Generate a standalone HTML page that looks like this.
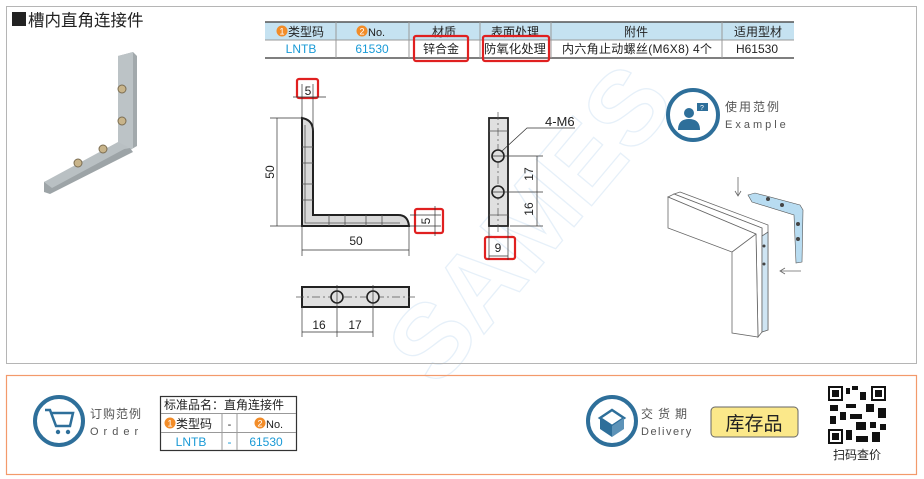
<!DOCTYPE html>
<html><head><meta charset="utf-8"><style>
body{margin:0;width:924px;height:479px;background:#fff;overflow:hidden;font-family:"Liberation Sans","Noto Sans CJK SC",sans-serif}
svg{position:absolute;left:0;top:0}
text{font-family:"Liberation Sans","Noto Sans CJK SC",sans-serif}
</style></head><body>
<svg width="924" height="479" viewBox="0 0 924 479">
<!-- watermark (faint) -->
<text x="330" y="300" font-size="105" font-weight="bold" fill="none" stroke="#e6f0f9" stroke-width="1.3" transform="rotate(-50 480 230)">SAMES</text>
<!-- frames -->
<rect x="6.5" y="6.5" width="910" height="357" fill="none" stroke="#b5b5b5"/>
<rect x="6.5" y="375.5" width="910" height="99" fill="none" stroke="#f39a6b" stroke-width="1.2"/>
<!-- title -->
<rect x="12" y="12" width="14" height="14" fill="#222"/>
<text x="28" y="26" font-size="16.5" fill="#222">槽内直角连接件</text>
<!-- product photo -->
<g>
<polygon points="118,56 133,52 137,56 137,146 130,150 118,146" fill="#a2a9ac"/>
<polygon points="118,56 133,52 133,148 125,152 118,150" fill="#bcc3c6"/>
<polygon points="118,150 130,148 133,152 50,194 44,192 44,182" fill="#9da4a7"/>
<polygon points="44,182 118,142 128,147 52,188" fill="#b9c0c3"/>
<circle cx="122" cy="89" r="4" fill="#c8b48a" stroke="#7b6d52"/>
<circle cx="122" cy="121" r="4" fill="#c8b48a" stroke="#7b6d52"/>
<circle cx="103" cy="149" r="4" fill="#c8b48a" stroke="#7b6d52"/>
<circle cx="78" cy="163" r="4" fill="#c8b48a" stroke="#7b6d52"/>
</g>
<!-- spec table -->
<rect x="265" y="22" width="529" height="18" fill="#c5e2f1"/>
<line x1="265" y1="22" x2="794" y2="22" stroke="#555" stroke-width="1.5"/>
<line x1="265" y1="40" x2="794" y2="40" stroke="#999"/>
<line x1="265" y1="58" x2="794" y2="58" stroke="#555" stroke-width="1.5"/>
<g stroke="#999"><line x1="336" y1="22" x2="336" y2="58"/><line x1="409" y1="22" x2="409" y2="58"/><line x1="480" y1="22" x2="480" y2="58"/><line x1="551" y1="22" x2="551" y2="58"/><line x1="722" y1="22" x2="722" y2="58"/></g>
<circle cx="282" cy="31" r="5.5" fill="#f28c28"/><text x="282" y="34.5" font-size="9" fill="#fff" text-anchor="middle">1</text>
<text x="288" y="36" font-size="12" fill="#222">类型码</text>
<circle cx="362" cy="31" r="5.5" fill="#f28c28"/><text x="362" y="34.5" font-size="9" fill="#fff" text-anchor="middle">2</text>
<text x="368" y="36" font-size="11" fill="#222">No.</text>
<g font-size="12" fill="#222" text-anchor="middle">
<text x="444" y="36">材质</text><text x="515" y="36">表面处理</text><text x="636" y="36">附件</text><text x="758" y="36">适用型材</text>
<text x="441" y="53">锌合金</text>
<text x="757" y="53">H61530</text>
</g>
<text x="484" y="53" font-size="12" fill="#222" textLength="62" lengthAdjust="spacingAndGlyphs">防氧化处理</text>
<text x="562" y="53" font-size="12" fill="#222" textLength="150" lengthAdjust="spacing">内六角止动螺丝(M6X8) 4个</text>
<g font-size="12" fill="#1a9ad6" text-anchor="middle"><text x="301" y="53">LNTB</text><text x="372" y="53">61530</text></g>
<g fill="none" stroke="#e02020" stroke-width="2.2">
<rect x="414" y="36" width="54" height="25" rx="2"/><rect x="483" y="36" width="66" height="25" rx="2"/>
<rect x="297" y="79" width="21" height="19" rx="2"/><rect x="415" y="209" width="28" height="24" rx="2"/><rect x="485" y="237" width="30" height="22" rx="2"/>
</g>
<!-- L shape front view -->
<path d="M302,118 Q313,120 313,131 L313,215 L398,215 Q408,215 409,226 L302,226 Z" fill="#d9d9d9" stroke="#222" stroke-width="2"/>
<path d="M305,125 L305,223 L400,223" fill="none" stroke="#555" stroke-width="0.8"/>
<g stroke="#555" stroke-width="0.8"><line x1="302" y1="147" x2="313" y2="147"/><line x1="302" y1="163" x2="313" y2="163"/><line x1="302" y1="184" x2="313" y2="184"/><line x1="302" y1="200" x2="313" y2="200"/><line x1="329" y1="215" x2="329" y2="226"/><line x1="345" y1="215" x2="345" y2="226"/><line x1="366" y1="215" x2="366" y2="226"/><line x1="382" y1="215" x2="382" y2="226"/></g>
<g stroke="#333" stroke-width="0.7" fill="none">
<line x1="293" y1="97" x2="326" y2="97"/><line x1="302" y1="84" x2="302" y2="118"/><line x1="313" y1="84" x2="313" y2="131"/>
<line x1="270" y1="118" x2="302" y2="118"/><line x1="270" y1="226" x2="302" y2="226"/><line x1="277" y1="118" x2="277" y2="226"/>
<line x1="302" y1="226" x2="302" y2="256"/><line x1="409" y1="226" x2="409" y2="256"/><line x1="302" y1="250" x2="409" y2="250"/>
<line x1="410" y1="215" x2="441" y2="215"/><line x1="410" y1="226" x2="441" y2="226"/><line x1="435" y1="206" x2="435" y2="236"/>
</g>
<text x="308" y="95" font-size="12" fill="#222" text-anchor="middle">5</text>
<text x="274" y="172" font-size="12" fill="#222" text-anchor="middle" transform="rotate(-90 274 172)">50</text>
<text x="356" y="245" font-size="12" fill="#222" text-anchor="middle">50</text>
<text x="430" y="221" font-size="12" fill="#222" text-anchor="middle" transform="rotate(-90 430 221)">5</text>
<!-- side view -->
<rect x="489" y="118" width="19" height="108" fill="#e0e0e0" stroke="#222" stroke-width="1.8"/>
<g stroke="#555" stroke-width="0.7"><line x1="489" y1="131" x2="508" y2="131"/><line x1="489" y1="215" x2="508" y2="215"/><line x1="498" y1="112" x2="498" y2="232" stroke-dasharray="8,3,2,3"/></g>
<circle cx="498" cy="156" r="6" fill="#e0e0e0" stroke="#222" stroke-width="1.6"/>
<circle cx="498" cy="192" r="6" fill="#e0e0e0" stroke="#222" stroke-width="1.6"/>
<g stroke="#333" stroke-width="0.7" fill="none">
<line x1="492" y1="156" x2="543" y2="156"/><line x1="492" y1="192" x2="543" y2="192"/><line x1="510" y1="226" x2="543" y2="226"/><line x1="537" y1="156" x2="537" y2="226"/>
<line x1="489" y1="226" x2="489" y2="260"/><line x1="508" y1="226" x2="508" y2="260"/><line x1="489" y1="256" x2="508" y2="256"/>
<polyline points="502,151 527,128 575,128"/>
</g>
<text x="545" y="126" font-size="13" fill="#222">4-M6</text>
<text x="533" y="174" font-size="12" fill="#222" text-anchor="middle" transform="rotate(-90 533 174)">17</text>
<text x="533" y="209" font-size="12" fill="#222" text-anchor="middle" transform="rotate(-90 533 209)">16</text>
<text x="498" y="252" font-size="12" fill="#222" text-anchor="middle">9</text>
<!-- bottom view -->
<rect x="302" y="287" width="107" height="20" fill="#e0e0e0" stroke="#222" stroke-width="2"/>
<line x1="296" y1="297" x2="415" y2="297" stroke="#555" stroke-width="0.7" stroke-dasharray="8,3,2,3"/>
<circle cx="337" cy="297" r="6" fill="#e0e0e0" stroke="#222" stroke-width="1.6"/>
<circle cx="373" cy="297" r="6" fill="#e0e0e0" stroke="#222" stroke-width="1.6"/>
<g stroke="#333" stroke-width="0.7"><line x1="302" y1="307" x2="302" y2="337"/><line x1="337" y1="285" x2="337" y2="337"/><line x1="373" y1="285" x2="373" y2="337"/><line x1="302" y1="332" x2="373" y2="332"/></g>
<text x="319" y="329" font-size="12" fill="#222" text-anchor="middle">16</text>
<text x="355" y="329" font-size="12" fill="#222" text-anchor="middle">17</text>
<!-- example -->
<circle cx="693" cy="115" r="25" fill="#fff" stroke="#2e6f9a" stroke-width="4"/>
<circle cx="689" cy="113" r="5" fill="#2e6f9a"/><path d="M678,130 Q678,119 689,119 Q700,119 700,130 Z" fill="#2e6f9a"/>
<rect x="697" y="103" width="11" height="8" fill="#2e6f9a"/><text x="702" y="110" font-size="7" fill="#fff" text-anchor="middle">?</text>
<text x="725" y="111" font-size="12" fill="#555" letter-spacing="2">使用范例</text>
<text x="725" y="128" font-size="11" fill="#555" letter-spacing="3">Example</text>
<g stroke="#666" stroke-width="0.8" fill="#fff">
<polygon points="680,192 768,225 768,330 762,332 762,228 674,194"/>
<polygon points="674,194 762,228 762,332 758,337 756,234 668,197"/>
<polygon points="668,197 756,234 758,337 732,333 732,252 668,228"/>
<line x1="732" y1="252" x2="756" y2="234"/>
<polygon points="762,236 768,232 768,330 762,332" fill="#cfe5f3"/>
</g>
<polygon points="748,195 755,193 800,205 803,210 802,262 796,263 794,215 752,202" fill="#b8dcf1" stroke="#555" stroke-width="0.6"/>
<g fill="#444"><circle cx="768" cy="199" r="2"/><circle cx="782" cy="205" r="2"/><circle cx="798" cy="224" r="2"/><circle cx="798" cy="239" r="2"/><circle cx="764" cy="246" r="1.5"/><circle cx="764" cy="264" r="1.5"/></g>
<g stroke="#666" stroke-width="0.8" fill="none"><line x1="738" y1="177" x2="738" y2="195"/><polyline points="735,191 738,196 741,191"/><line x1="781" y1="271" x2="801" y2="271"/><polyline points="785,268 780,271 785,274"/></g>
<!-- order -->
<circle cx="59" cy="421" r="24" fill="#fff" stroke="#2e6f9a" stroke-width="4"/>
<g stroke="#2e6f9a" stroke-width="2.5" fill="none"><polyline points="45,410 50,410 56,426 70,426 73,413 52,413"/></g>
<g fill="#2e6f9a"><circle cx="58" cy="432" r="2.2"/><circle cx="68" cy="432" r="2.2"/></g>
<text x="90" y="418" font-size="12" fill="#555" letter-spacing="1">订购范例</text>
<text x="90" y="435" font-size="11" fill="#555" letter-spacing="5">Order</text>
<rect x="160.5" y="396.5" width="136" height="54" fill="#fff" stroke="#333" stroke-width="1.2"/>
<g stroke="#999"><line x1="161" y1="413.5" x2="296" y2="413.5"/><line x1="161" y1="432.5" x2="296" y2="432.5"/><line x1="222" y1="414" x2="222" y2="450"/><line x1="237" y1="414" x2="237" y2="450"/></g>
<text x="164" y="409" font-size="12" fill="#222">标准品名：直角连接件</text>
<circle cx="170" cy="423" r="5.5" fill="#f28c28"/><text x="170" y="426.5" font-size="9" fill="#fff" text-anchor="middle">1</text>
<text x="176" y="428" font-size="12" fill="#222">类型码</text>
<text x="229.5" y="428" font-size="11" fill="#222" text-anchor="middle">-</text>
<circle cx="260" cy="423" r="5.5" fill="#f28c28"/><text x="260" y="426.5" font-size="9" fill="#fff" text-anchor="middle">2</text>
<text x="266" y="428" font-size="11" fill="#222">No.</text>
<g font-size="12" fill="#1a9ad6" text-anchor="middle"><text x="191" y="446">LNTB</text><text x="229.5" y="446">-</text><text x="266" y="446">61530</text></g>
<!-- delivery -->
<circle cx="612" cy="421" r="24" fill="#fff" stroke="#2e6f9a" stroke-width="4"/>
<polygon points="600,418 612,410 624,418 612,426" fill="none" stroke="#2e6f9a" stroke-width="2.5"/>
<polygon points="600,418 612,426 612,437 600,429" fill="#2e6f9a"/><polygon points="624,418 612,426 612,437 624,429" fill="#5d93b8"/>
<text x="641" y="418" font-size="12" fill="#555" letter-spacing="5">交货期</text>
<text x="641" y="435" font-size="11" fill="#555" letter-spacing="1.5">Delivery</text>
<rect x="711" y="407" width="87" height="30" rx="4" fill="#fbe88a" stroke="#666"/>
<text x="754" y="430" font-size="19" fill="#222" text-anchor="middle">库存品</text>
<!-- QR -->
<rect x="827" y="385" width="60" height="60" fill="#fff"/>
<g fill="#111">
<rect x="828" y="386" width="15" height="15"/><rect x="871" y="386" width="15" height="15"/><rect x="828" y="429" width="15" height="15"/>
<rect x="846" y="388" width="4" height="6"/><rect x="852" y="386" width="6" height="4"/><rect x="860" y="392" width="6" height="8"/><rect x="846" y="404" width="10" height="4"/>
<rect x="830" y="405" width="8" height="6"/><rect x="840" y="412" width="6" height="8"/><rect x="850" y="414" width="12" height="5"/><rect x="866" y="404" width="8" height="8"/>
<rect x="878" y="408" width="8" height="10"/><rect x="830" y="416" width="6" height="8"/><rect x="856" y="422" width="10" height="8"/><rect x="870" y="422" width="6" height="6"/>
<rect x="846" y="430" width="6" height="10"/><rect x="856" y="436" width="12" height="6"/><rect x="872" y="432" width="8" height="10"/><rect x="880" y="424" width="6" height="6"/>
</g>
<g fill="#fff"><rect x="830" y="388" width="11" height="11"/><rect x="873" y="388" width="11" height="11"/><rect x="830" y="431" width="11" height="11"/></g>
<g fill="#111"><rect x="832" y="390" width="7" height="7"/><rect x="875" y="390" width="7" height="7"/><rect x="832" y="433" width="7" height="7"/></g>
<text x="857" y="459" font-size="12" fill="#222" text-anchor="middle">扫码查价</text>
</svg>
</body></html>
